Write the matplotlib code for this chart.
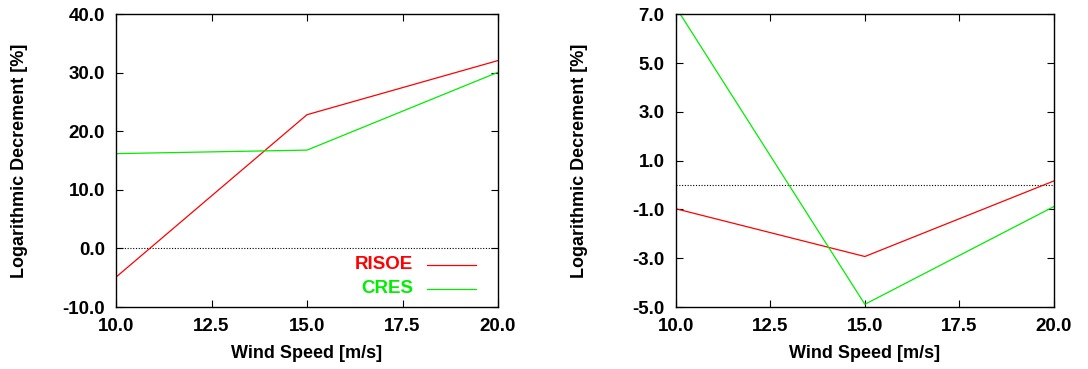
import matplotlib
matplotlib.use("Agg")
import matplotlib.pyplot as plt
from matplotlib.lines import Line2D
from matplotlib.ticker import FixedLocator, FormatStrFormatter

plt.rcParams['font.family'] = ['Liberation Sans', 'DejaVu Sans']
plt.rcParams['font.weight'] = 'bold'

wind_speed = [10.0, 15.0, 20.0]

# Left panel
risoe_left = [-4.9, 22.85, 32.1]
cres_left = [16.2, 16.8, 30.1]
# Right panel
risoe_right = [-0.97, -2.93, 0.17]
cres_right = [7.3, -4.89, -0.88]

x_ticks = [10.0, 12.5, 15.0, 17.5, 20.0]
y_ticks_left = [-10.0, 0.0, 10.0, 20.0, 30.0, 40.0]
y_ticks_right = [-5.0, -3.0, -1.0, 1.0, 3.0, 5.0, 7.0]
series_names = ['RISOE', 'CRES']

RED = '#ff0000'
GREEN = '#00ee00'

W, H = 1088, 369
fig = plt.figure(figsize=(W / 100, H / 100), dpi=100)

# axes boxes in pixels: left, top, right, bottom
boxes = [(116, 14.3, 498, 307), (675.7, 14.3, 1054, 307)]
axes = []
for (l, t, r, b) in boxes:
    axes.append(fig.add_axes([l / W, 1 - b / H, (r - l) / W, (b - t) / H]))
ax1, ax2 = axes


def style(ax, yticks, box):
    l, t, r, b = box
    ax.set_xlim(10, 20)
    ax.set_ylim(yticks[0], yticks[-1])
    ax.xaxis.set_major_locator(FixedLocator(x_ticks))
    ax.yaxis.set_major_locator(FixedLocator(yticks))
    ax.xaxis.set_major_formatter(FormatStrFormatter('%.1f'))
    ax.yaxis.set_major_formatter(FormatStrFormatter('%.1f'))
    ax.tick_params(direction='in', top=True, right=True, length=5, width=0.8,
                   labelsize=13.5, pad=8)
    for lbl in ax.get_xticklabels() + ax.get_yticklabels():
        lbl.set_fontweight('bold')
    for s in ax.spines.values():
        s.set_linewidth(1.0)
    ax.axhline(0, color='black', lw=0.8, ls=(0, (1, 1.5)))
    fig.text((l + r) / 2 / W, 1 - 353 / H, 'Wind Speed [m/s]', fontsize=13,
             fontweight='bold', ha='center', va='center')
    fig.text((l - 96) / W, 1 - (t + b) / 2 / H, 'Logarithmic Decrement [%]',
             fontsize=13, fontweight='bold', rotation=90, ha='center', va='center')


style(ax1, y_ticks_left, boxes[0])
style(ax2, y_ticks_right, boxes[1])

ax1.plot(wind_speed, risoe_left, color=RED, lw=0.9)
ax1.plot(wind_speed, cres_left, color=GREEN, lw=0.9)
ax2.plot(wind_speed, risoe_right, color=RED, lw=0.9)
ax2.plot(wind_speed, cres_right, color=GREEN, lw=0.9)

# key in the lower right of the left panel
for name, col, ypos in zip(series_names, [RED, GREEN], [0.1435, 0.0615]):
    ax1.text(0.7775, ypos, name, transform=ax1.transAxes, color=col,
             fontsize=13.5, fontweight='bold', ha='right', va='center')
    ax1.add_line(Line2D([0.814, 0.942], [ypos, ypos], transform=ax1.transAxes,
                        color=col, lw=0.9))

fig.savefig('out.png', dpi=100)
